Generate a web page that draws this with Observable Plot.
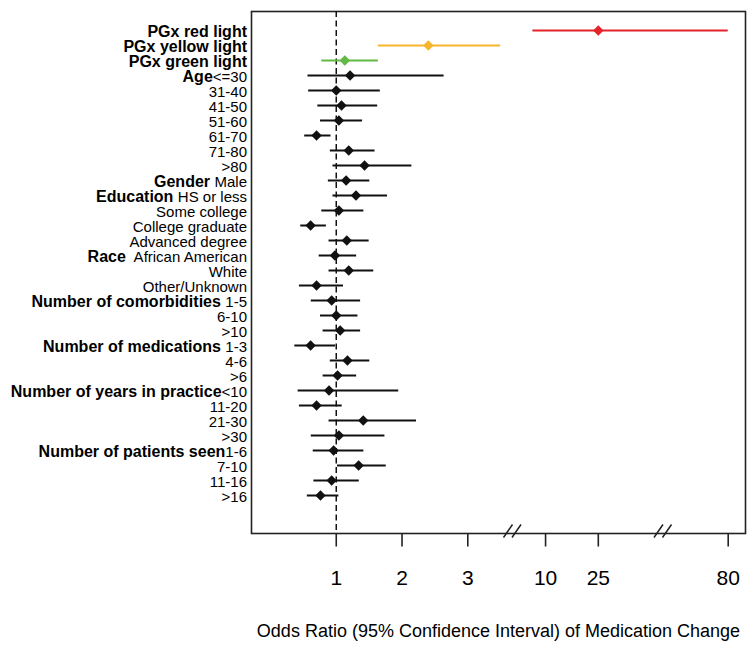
<!DOCTYPE html>
<html>
<head>
<meta charset="utf-8">
<script src="https://cdn.jsdelivr.net/npm/d3@7"></script>
<script src="https://cdn.jsdelivr.net/npm/@observablehq/plot@0.6"></script>
<style>
  html, body { margin: 0; padding: 0; background: #fff; }
  #chart { width: 754px; height: 650px; }
</style>
</head>
<body>
<div id="chart"></div>
<script>
// ---- Data ----
const groups = [
  "PGx red light", "PGx yellow light", "PGx green light",
  "Age", "", "", "", "", "", "",
  "Gender ",
  "Education ", "", "", "",
  "Race ", "", "",
  "Number of comorbidities ", "", "",
  "Number of medications ", "", "",
  "Number of years in practice", "", "", "",
  "Number of patients seen", "", "", ""
];
const levels = [
  "", "", "",
  "<=30", "31-40", "41-50", "51-60", "61-70", "71-80", ">80",
  "Male",
  "HS or less", "Some college", "College graduate", "Advanced degree",
  " African American", "White", "Other/Unknown",
  "1-5", "6-10", ">10",
  "1-3", "4-6", ">6",
  "<10", "11-20", "21-30", ">30",
  "1-6", "7-10", "11-16", ">16"
];
const oddsRatio = [25, 2.40, 1.13, 1.21, 1.00, 1.08, 1.04, 0.70, 1.19, 1.43, 1.15, 1.30, 1.04, 0.61, 1.16, 0.98, 1.19, 0.70, 0.93, 1.00, 1.06, 0.61, 1.17, 1.02, 0.89, 0.70, 1.41, 1.04, 0.96, 1.34, 0.93, 0.76];
const ciLower   = [6.4, 1.64, 0.78, 0.57, 0.58, 0.72, 0.76, 0.52, 0.91, 0.95, 0.88, 0.95, 0.78, 0.46, 0.89, 0.74, 0.89, 0.44, 0.62, 0.76, 0.80, 0.37, 0.91, 0.80, 0.42, 0.44, 0.89, 0.62, 0.65, 1.02, 0.66, 0.56];
const ciUpper   = [80, 3.50, 1.64, 2.64, 1.67, 1.63, 1.40, 0.92, 1.59, 2.15, 1.51, 1.78, 1.42, 0.85, 1.50, 1.31, 1.57, 1.11, 1.37, 1.33, 1.37, 0.99, 1.51, 1.31, 1.95, 1.09, 2.22, 1.74, 1.42, 1.76, 1.35, 1.04];
const xTicks = [1, 2, 3, 10, 25, 80];
const axisBreaks = [3.68, 43.4];
const xTitle = "Odds Ratio (95% Confidence Interval) of Medication Change";

// ---- Styling ----
const highlight = {0: "#e4232b", 1: "#f6b52c", 2: "#62b946"};
const colorOf = i => highlight[i] ?? "#111111";

const rows = levels.map((lev, i) => ({
  i, group: groups[i], level: lev,
  or: oddsRatio[i], lo: ciLower[i], hi: ciUpper[i]
}));
const fullLabel = i => groups[i] + levels[i];

// Broken axis: odds ratio -> axis units (linear 0–3.7, gap, linear 6–43, gap, to 80)
const broken = d3.scaleLinear()
  .domain([0, 3.68, 6, 43.4, 80])
  .range([19, 261, 280, 411.5, 476.7]);

// double-slash axis break symbol
const doubleSlash = {
  draw(ctx) {
    ctx.moveTo(-9, 6.5); ctx.lineTo(0, -6.5);
    ctx.moveTo(-0.5, 6.5); ctx.lineTo(8.5, -6.5);
  }
};

const chart = Plot.plot({
  width: 754,
  height: 650,
  marginLeft: 251,
  marginRight: 9,
  marginTop: 11,
  marginBottom: 117,
  style: {fontFamily: "'Liberation Sans', Arial, Helvetica, sans-serif", fontSize: "15px", color: "#000", background: "#fff"},
  x: {type: "linear", transform: broken, domain: [0, 494]},
  y: {type: "point", domain: d3.range(levels.length), range: [26.7, 498.3], padding: 0},
  marks: [
    Plot.frame({stroke: "#222", strokeWidth: 1.6}),
    Plot.ruleX([1], {stroke: "#111", strokeWidth: 1.5, strokeDasharray: "6,3.5"}),
    Plot.ruleY(rows, {y: "i", x1: "lo", x2: "hi", stroke: d => colorOf(d.i), strokeWidth: 2}),
    Plot.dot(rows, {x: "or", y: "i", symbol: "diamond2", r: 4.7, fill: d => colorOf(d.i), stroke: "none"}),
    Plot.axisX({
      ticks: xTicks.map(broken),
      tickFormat: d => String(Math.round(broken.invert(d))),
      tickSize: 13.5, tickPadding: 23, fontSize: 21,
      stroke: "#222", strokeWidth: 1.6, label: null, fill: "#000"
    }),
    Plot.axisY({tickSize: 0, tickPadding: 4.5, fontSize: 15, tickFormat: fullLabel, dy: 1.5, label: null, fill: "#000"}),
    Plot.dot(axisBreaks, {x: d => d, frameAnchor: "bottom", symbol: doubleSlash, r: 5, stroke: "#222", strokeWidth: 1.5, fill: "none", dy: -2.5}),
    Plot.text([xTitle], {frameAnchor: "bottom", text: d => d, dy: 103, fontSize: 18, fill: "#000"})
  ]
});

document.getElementById("chart").appendChild(chart);

// Bold group names + regular level names in the row labels
const idx = new Map(levels.map((_, i) => [fullLabel(i), i]));
chart.querySelectorAll('g[aria-label="y-axis tick label"] text').forEach(el => {
  const i = idx.get(el.textContent);
  if (i == null) return;
  el.textContent = "";
  el.style.whiteSpace = "pre";
  const ns = "http://www.w3.org/2000/svg";
  if (groups[i]) {
    const b = document.createElementNS(ns, "tspan");
    b.setAttribute("font-weight", "bold");
    b.setAttribute("font-size", "16");
    b.textContent = groups[i];
    el.appendChild(b);
  }
  if (levels[i]) {
    const n = document.createElementNS(ns, "tspan");
    n.textContent = levels[i];
    el.appendChild(n);
  }
});
</script>
</body>
</html>
